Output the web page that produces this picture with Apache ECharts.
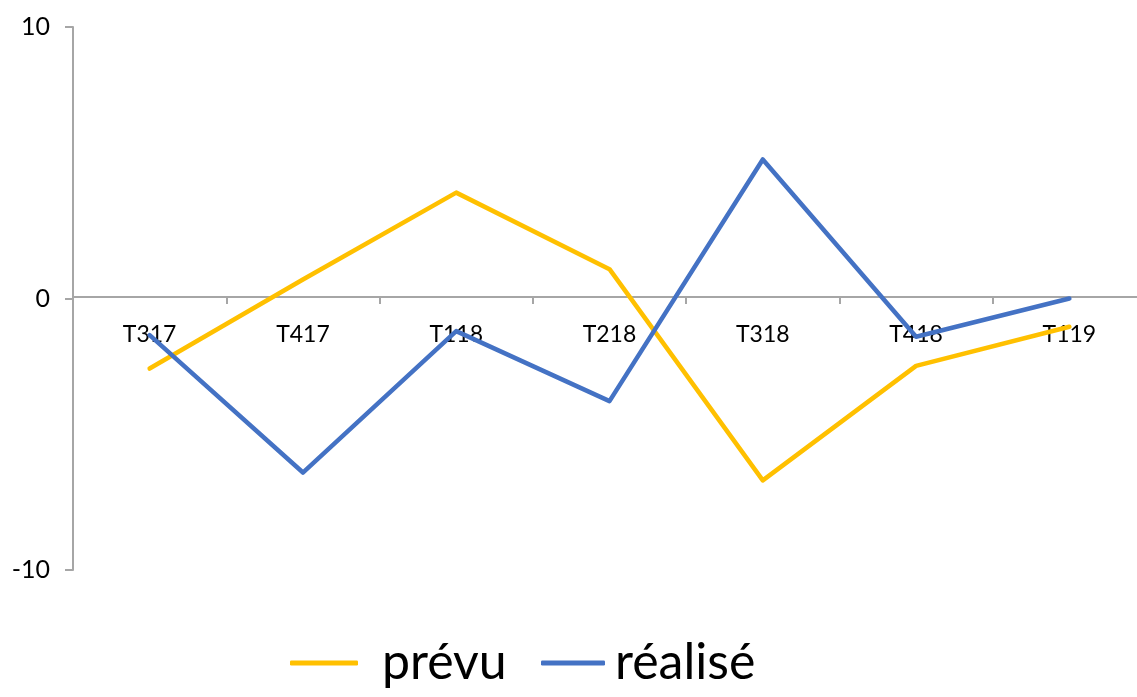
<!DOCTYPE html>
<html>
<head>
<meta charset="utf-8">
<script src="https://cdn.jsdelivr.net/npm/echarts@6/dist/echarts.min.js"></script>
<style>html,body{margin:0;padding:0;background:#fff;overflow:hidden}#c{width:1146px;height:697px}</style>
</head>
<body>
<div id="c"></div>
<script>
const categories = ['T317','T417','T118','T218','T318','T418','T119'];
const prevu = [-2.58, 0.7, 3.9, 1.08, -6.7, -2.48, -1.04];
const realise = [-1.35, -6.41, -1.2, -3.78, 5.12, -1.41, 0];
const yTicks = {min: -10, max: 10, interval: 10};

const chart = echarts.init(document.getElementById('c'), null, {renderer: 'canvas'});
const FONT = 'Lato';
chart.setOption({
  animation: false,
  backgroundColor: '#fff',
  grid: {left: 73, top: 27, right: 0, bottom: 127, containLabel: false},
  legend: [
    {data: ['prévu'], left: 290, top: 634, padding: 0, icon: 'roundRect', itemWidth: 68, itemHeight: 5,
     textStyle: {fontFamily: FONT, fontSize: 50, color: '#000', padding: [0,0,0,19], lineHeight: 58}},
    {data: ['réalisé'], left: 541, top: 634, padding: 0, icon: 'roundRect', itemWidth: 64, itemHeight: 5,
     textStyle: {fontFamily: FONT, fontSize: 50, color: '#000', padding: [0,0,0,5], lineHeight: 58}}
  ],
  xAxis: {
    type: 'category', data: categories, boundaryGap: true, offset: -273,
    axisLine: {onZero: false, lineStyle: {color: '#A6A6A6', width: 2}},
    axisTick: {show: true, length: 7, lineStyle: {color: '#A6A6A6', width: 2}},
    axisLabel: {fontFamily: FONT, fontSize: 23, color: '#000', margin: 26},
    splitLine: {show: false}
  },
  yAxis: {
    type: 'value', min: yTicks.min, max: yTicks.max, interval: yTicks.interval,
    axisLine: {show: true, lineStyle: {color: '#A6A6A6', width: 2}},
    axisTick: {show: true, length: 8, lineStyle: {color: '#A6A6A6', width: 2}},
    axisLabel: {fontFamily: FONT, fontSize: 25, color: '#000', margin: 23},
    splitLine: {show: false}
  },
  series: [
    {name: 'prévu', type: 'line', data: prevu, symbol: 'none', color: '#FFC000',
     lineStyle: {color: '#FFC000', width: 4.5, cap: 'round', join: 'round'}},
    {name: 'réalisé', type: 'line', data: realise, symbol: 'none', color: '#4472C4',
     lineStyle: {color: '#4472C4', width: 4.5, cap: 'round', join: 'round'}}
  ]
});
</script>
</body>
</html>
